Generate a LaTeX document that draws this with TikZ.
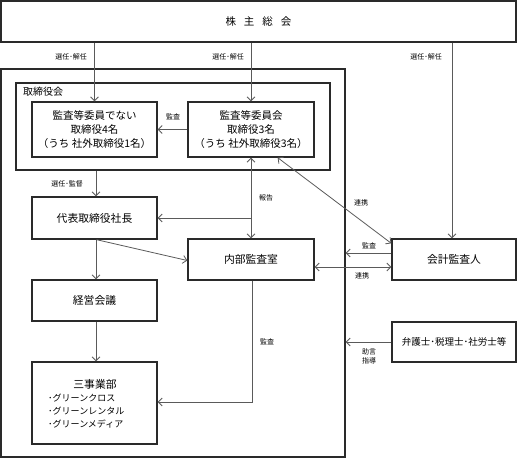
\documentclass[tikz,border=0pt]{standalone}
\usepackage{fontspec}
\setmainfont{Noto Sans CJK JP}
\usetikzlibrary{arrows.meta,calc}
\definecolor{boxc}{HTML}{2A2A2A}
\definecolor{arrc}{HTML}{5A5A5A}
\tikzset{
  box/.style={draw=boxc,line width=1.3pt,inner sep=0pt,align=center,font=\fontsize{10.5}{14}\selectfont},
  bigbox/.style={box,font=\fontsize{10.8}{14}\selectfont},
  frame/.style={draw=boxc,line width=1.3pt,inner sep=0pt},
  arr/.style={draw=arrc,line width=0.8pt,-{Straight Barb[length=4pt,width=8pt]}},
  darr/.style={draw=arrc,line width=0.8pt,{Straight Barb[length=4pt,width=8pt]}-{Straight Barb[length=4pt,width=8pt]}},
  lbl/.style={inner sep=0pt,font=\fontsize{7}{9}\selectfont},
}
\begin{document}
\begin{tikzpicture}[x=1pt,y=-1pt]
\useasboundingbox (0,0) rectangle (518,459);
% boxes
\node[box,minimum width=515pt,minimum height=41pt] (sh) at (258.5,21.5) {株\hspace{8pt}主\hspace{8pt}総\hspace{8pt}会};
\node[frame,minimum width=344pt,minimum height=388pt] (co) at (173,263) {};
\node[frame,minimum width=314pt,minimum height=87pt] (bod) at (173,126.5) {};
\node[inner sep=0pt,anchor=west,font=\fontsize{10}{12}\selectfont] (bodl) at (23,92) {取締役会};
\node[box,minimum width=125pt,minimum height=55pt] (nonac) at (94.5,129.5) {監査等委員でない\\取締役4名\\（うち 社外取締役1名）};
\node[box,minimum width=126pt,minimum height=55pt] (ac) at (251,129.5) {監査等委員会\\取締役3名\\（うち 社外取締役3名）};
\node[bigbox,minimum width=125pt,minimum height=42pt] (ceo) at (94.5,218) {代表取締役社長};
\node[bigbox,minimum width=126pt,minimum height=41pt] (ia) at (251,259.5) {内部監査室};
\node[bigbox,minimum width=125pt,minimum height=41pt] (mm) at (94.5,300.5) {経営会議};
\node[box,minimum width=125pt,minimum height=82pt] (biz) at (94.5,403) {};
\node[inner sep=0pt,font=\fontsize{10.8}{13}\selectfont] (bizh) at (95,384) {三事業部};
\node[inner sep=0pt,anchor=west,align=left,font=\fontsize{9}{13}\selectfont] (bizl) at (48,411) {･グリーンクロス\\･グリーンレンタル\\･グリーンメディア};
\node[bigbox,minimum width=124pt,minimum height=41pt] (aud) at (454,259.5) {会計監査人};
\node[box,minimum width=124pt,minimum height=40pt,font=\fontsize{9.5}{12}\selectfont] (law) at (454,342) {弁護士･税理士･社労士等};
% connectors
\draw[arr] (sh.south -| nonac.north) -- (nonac.north);
\draw[arr] (sh.south -| ac.north) -- (ac.north);
\draw[arr] ($(sh.south -| aud.north)+(-2,0)$) -- ($(aud.north)+(-2,0)$);
\draw[arr] (ac.west) -- (nonac.east);
\draw[arr] ($(bod.south -| ceo.north)+(1.5,0)$) -- ($(ceo.north)+(1.5,0)$);
\draw[darr] (ac.south) -- (ia.north);
\coordinate (br) at (ac.south |- ceo.east);
\draw[arr] (br) -- (ceo.east);
\draw[arr] ($(ceo.south)+(2,0)$) -- ($(ia.west)+(0,1)$);
\draw[arr] ($(ceo.south)+(1.5,0)$) -- ($(mm.north)+(1.5,0)$);
\draw[arr] ($(mm.south)+(1.5,0)$) -- ($(biz.north)+(1.5,0)$);
\draw[arr] ($(ia.south)+(1,0)$) |- ($(biz.east)+(0,-1)$);
\draw[darr] ($(ac.south east)+(-37,0)$) -- ($(aud.north west)+(0,5)$);
\coordinate (auda) at ($(aud.west)+(0,-6.5)$);
\draw[arr] (auda) -- (auda -| co.east);
\draw[darr] ($(ia.east)+(0,7.5)$) -- ($(aud.west)+(0,7.5)$);
\draw[arr] (law.west) -- (law.west -| co.east);
% labels
\node[lbl] (l1) at (71,57) {選任･解任};
\node[lbl] (l2) at (228,57) {選任･解任};
\node[lbl] (l3) at (426,57) {選任･解任};
\node[lbl] (l4) at (173,117) {監査};
\node[lbl] (l5) at (67,184) {選任･監督};
\node[lbl] (l6) at (266,198) {報告};
\node[lbl] (l7) at (361,203) {連携};
\node[lbl] (l8) at (369,246) {監査};
\node[lbl] (l9) at (362,276) {連携};
\node[lbl] (l10) at (267,342) {監査};
\node[lbl,align=center] (l11) at (369,356) {助言\\指導};
\end{tikzpicture}
\end{document}
